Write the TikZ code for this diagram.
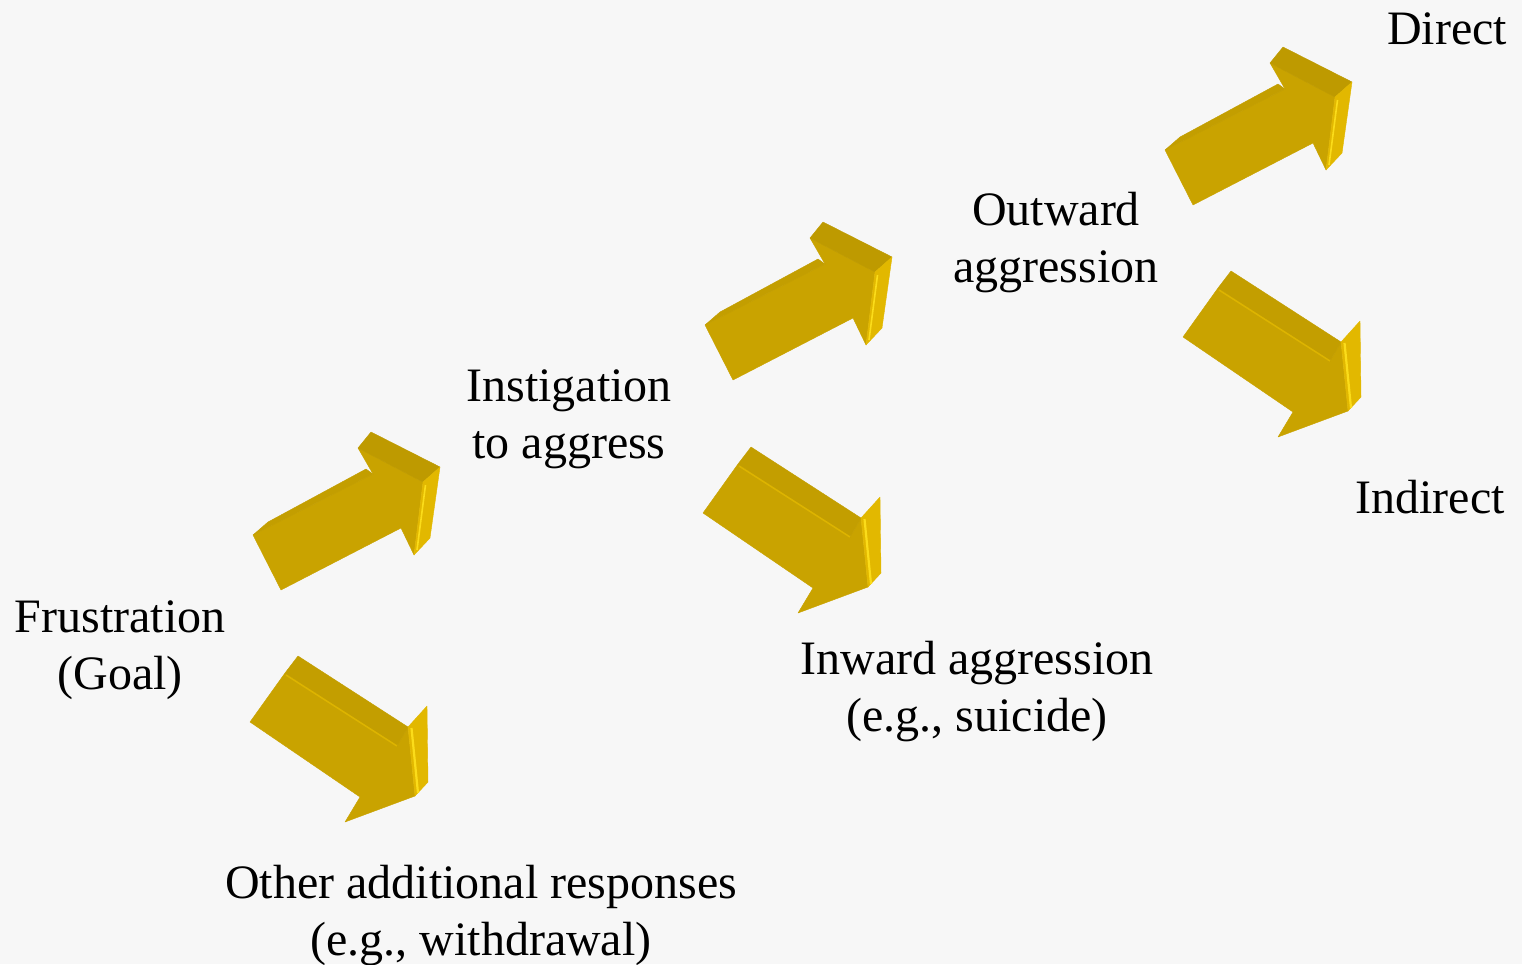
\documentclass[tikz,border=0pt]{standalone}
\usepackage{fontspec}
\setmainfont{Liberation Serif}
\usepackage{tikz}
\usetikzlibrary{positioning}

\definecolor{bgc}{HTML}{F7F7F7}
\definecolor{arrfront}{HTML}{C9A300}
\definecolor{arrtop}{HTML}{BE9A00}
\definecolor{arrstrip}{HTML}{C39E00}
\definecolor{arrside}{HTML}{E2B800}
\definecolor{arrshine}{HTML}{FBDC1A}

\tikzset{
  lbl/.style = {anchor = base, inner sep = 0pt, font = \fontsize{48}{56}\selectfont},
  face/.style = {fill = #1, draw = #1, line width = .4pt, line join = round},
  % block arrow pointing up-right, origin at the tail corner
  uparrow/.pic = {
    \path[face = arrfront] (0,0) -- (28,55) -- (148,-7) -- (161,20) -- (170,-53) -- (105,-87) -- (120,-61) -- cycle;
    \path[face = arrstrip] (0,0) -- (15,-13) -- (113,-66) -- (120,-61) -- cycle;
    \path[face = arrtop] (105,-87) -- (118,-103) -- (187,-68) -- (170,-53) -- cycle;
    \path[face = arrside] (170,-53) -- (187,-68) -- (177,3) -- (161,20) -- cycle;
    \draw[arrshine, line width = 1.6pt] (172.5,-50) -- (164,15);
  },
  % block arrow pointing down-right, origin at the tail corner
  downarrow/.pic = {
    \path[face = arrfront] (0,0) -- (35,-49) -- (147,24) -- (158,5) -- (165,74) -- (95,100) -- (110,75) -- cycle;
    \path[face = arrstrip] (35,-49) -- (48,-66) -- (158,5) -- (147,24) -- cycle;
    \draw[arrside!80!arrfront, line width = 1.5pt] (36,-47) -- (147,24);
    \path[face = arrside] (158,5) -- (177,-16) -- (178,60) -- (165,74) -- cycle;
    \draw[arrshine, line width = 2.2pt] (161.5,6) -- (168,71);
  }
}

\begin{document}
\begin{tikzpicture}[x = 1pt, y = -1pt]
\fill[bgc] (0,0) rectangle (1522,964);
\useasboundingbox (0,0) rectangle (1522,964);

% arrows
\pic at (253,535) {uparrow};
\pic at (705,325) {uparrow};
\pic at (1165,150) {uparrow};
\pic at (250,722) {downarrow};
\pic at (703,513) {downarrow};
\pic at (1183,337) {downarrow};

% labels
\node[lbl] (frus) at (120,632) {Frustration};
\node[lbl] (goal) at (120,689) {(Goal)};
\node[lbl] (inst) at (569,401) {Instigation};
\node[lbl] (aggr) at (569,458) {to aggress};
\node[lbl] (outw) at (1056,225) {Outward};
\node[lbl] (outa) at (1056,282) {aggression};
\node[lbl] (dir) at (1447,44) {Direct};
\node[lbl] (indir) at (1430,513) {Indirect};
\node[lbl] (inw) at (977,674) {Inward aggression};
\node[lbl] (sui) at (977,731) {(e.g., suicide)};
\node[lbl] (oth) at (481,898) {Other additional responses};
\node[lbl] (wdr) at (481,955) {(e.g., withdrawal)};
\end{tikzpicture}
\end{document}
